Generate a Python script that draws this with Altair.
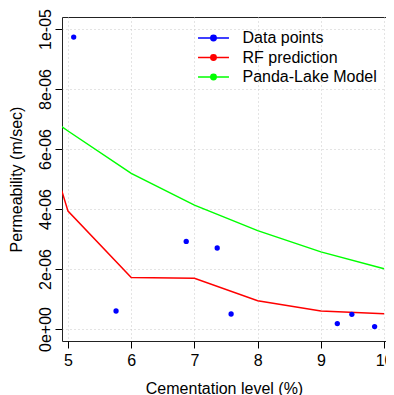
import json
import altair as alt
import pandas as pd

# ---- data ----
series_names = ["Data points", "RF prediction", "Panda-Lake Model"]
series_colors = ["#0000FF", "#FF0000", "#00FF00"]

x_points = [5.09, 5.76, 6.87, 7.36, 7.58, 9.26, 9.49, 9.85]
y_points = [9.73e-6, 0.60e-6, 2.92e-6, 2.70e-6, 0.50e-6, 0.18e-6, 0.49e-6, 0.08e-6]

x_curve = [4.9, 5, 6, 7, 8, 9, 10]
rf_pred = [4.62e-6, 3.93e-6, 1.72e-6, 1.69e-6, 0.94e-6, 0.60e-6, 0.51e-6]
panda_lake = [6.75e-6, 6.60e-6, 5.19e-6, 4.13e-6, 3.28e-6, 2.57e-6, 2.01e-6]

x_ticks = [5, 6, 7, 8, 9, 10]
y_ticks = [0, 2e-6, 4e-6, 6e-6, 8e-6, 1e-5]
y_tick_labels = ["0e+00", "2e-06", "4e-06", "6e-06", "8e-06", "1e-05"]

x_domain = [4.905, 10.03]
y_domain = [-0.4e-6, 10.4e-6]

# ---- tables ----
pts = pd.DataFrame({"x": x_points, "y": y_points, "series": series_names[0]})
curves = pd.concat([
    pd.DataFrame({"x": x_curve, "y": rf_pred, "series": series_names[1]}),
    pd.DataFrame({"x": x_curve, "y": panda_lake, "series": series_names[2]}),
])

FONT = "Liberation Sans"

color_scale = alt.Scale(domain=series_names, range=series_colors)

legend_symbol = (
    "M-1.72,0H1.72"
    "M0.3,0A0.3,0.3,0,1,1,-0.3,0A0.3,0.3,0,1,1,0.3,0"
    "M0.15,0A0.15,0.15,0,1,1,-0.15,0A0.15,0.15,0,1,1,0.15,0"
    "M0.05,0A0.05,0.05,0,1,1,-0.05,0A0.05,0.05,0,1,1,0.05,0"
)

x_enc = alt.X(
    "x:Q",
    scale=alt.Scale(domain=x_domain, nice=False, zero=False),
    axis=alt.Axis(
        values=x_ticks, format="d", title="Cementation level (%)",
        labelFontSize=16, labelFont=FONT, labelColor="black",
        labelBaseline="alphabetic", labelPadding=17, labelFlush=False,
        tickSize=7, tickColor="black", domain=False,
        titleFontSize=16, titleFont=FONT, titleFontWeight="normal", titleColor="black",
        titleBaseline="alphabetic", titleY=52,
        grid=True, gridDash=[1, 3], gridColor="#C8C8C8", gridWidth=1,
    ),
)
y_enc = alt.Y(
    "y:Q",
    scale=alt.Scale(domain=y_domain, nice=False, zero=False),
    axis=alt.Axis(
        values=y_ticks,
        labelExpr=json.dumps(y_tick_labels) + "[round(datum.value / 2e-6)]",
        title="Permeability (m/sec)",
        labelFontSize=16, labelFont=FONT, labelColor="black",
        labelAngle=270, labelAlign="center", labelBaseline="alphabetic",
        labelPadding=5, labelFlush=False,
        tickSize=7, tickColor="black", domain=False,
        titleFontSize=16, titleFont=FONT, titleFontWeight="normal", titleColor="black",
        titleBaseline="alphabetic", titleX=-41, titleY=162, titleAngle=270,
        grid=True, gridDash=[1, 3], gridColor="#C8C8C8", gridWidth=1,
    ),
)

lines = alt.Chart(curves).mark_line(strokeWidth=1.5, clip=True).encode(
    x=x_enc, y=y_enc,
    color=alt.Color(
        "series:N", scale=color_scale, sort=series_names,
        legend=alt.Legend(
            title=None, orient="none", legendX=141.5, legendY=11,
            symbolType=legend_symbol, symbolSize=324, symbolStrokeWidth=1.5,
            labelFontSize=16, labelFont=FONT, labelColor="black",
            labelOffset=19, rowPadding=1.5, padding=0,
        ),
    ),
    detail="series:N",
)

points = alt.Chart(pts).mark_point(filled=True, size=28, opacity=1, clip=True).encode(
    x=x_enc, y=y_enc,
    color=alt.Color("series:N", scale=color_scale, legend=None),
)

chart = alt.layer(lines, points).properties(
    width=324, height=324,
    autosize=alt.AutoSizeParams(type="none"),
    padding={"left": 54, "top": 9, "right": 0, "bottom": 54},
    background="white",
).configure_view(stroke="#222", strokeWidth=1)

chart.save("out.html", embed_options={"renderer": "svg", "actions": False})
